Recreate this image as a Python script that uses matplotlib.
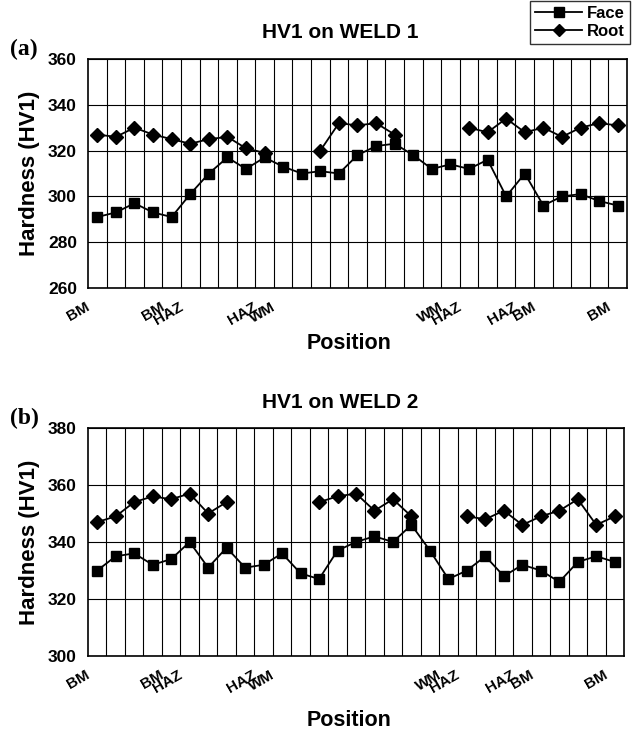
import numpy as np
import matplotlib
matplotlib.use("Agg")
import matplotlib.pyplot as plt
import matplotlib.transforms as mtransforms
from matplotlib.lines import Line2D

plt.rcParams['font.family'] = ['Liberation Sans', 'DejaVu Sans']

nan = np.nan
positions = np.arange(1, 30)

# tick labels only at a few positions
label_pos = [1, 5, 6, 10, 11, 20, 21, 24, 25, 29]
label_txt = ["BM", "BM", "HAZ", "HAZ", "WM", "WM", "HAZ", "HAZ", "BM", "BM"]

# WELD 1
face_w1 = [291, 293, 297, 293, 291, 301, 310, 317, 312, 317, 313, 310, 311, 310, 318,
           322, 323, 318, 312, 314, 312, 316, 300, 310, 296, 300, 301, 298, 296]
root_w1 = [327, 326, 330, 327, 325, 323, 325, 326, 321, 319, nan, nan, 320, 332, 331,
           332, 327, nan, nan, nan, 330, 328, 334, 328, 330, 326, 330, 332, 331]

# WELD 2
face_w2 = [330, 335, 336, 332, 334, 340, 331, 338, 331, 332, 336, 329, 327, 337, 340,
           342, 340, 346, 337, 327, 330, 335, 328, 332, 330, 326, 333, 335, 333]
root_w2 = [347, 349, 354, 356, 355, 357, 350, 354, nan, nan, nan, nan, 354, 356, 357,
           351, 355, 349, nan, nan, 349, 348, 351, 346, 349, 351, 355, 346, 349]

W, H = 637, 731
fig = plt.figure(figsize=(W / 100, H / 100), dpi=100)


def panel(rect, face, root, ylim, title, tag, title_y, xlab_y):
    ax = fig.add_axes(rect)
    ax.plot(positions, face, color="black", marker="s", markersize=7.5, lw=1.3)
    ax.plot(positions, root, color="black", marker="D", markersize=7, lw=1.3)
    for b in np.arange(1.5, 29.5, 1):
        ax.axvline(b, color="black", lw=0.8, zorder=0)
    ax.grid(axis="y", color="black", lw=0.8, zorder=0)
    ax.set_xticks([])
    ax.set_yticks(np.arange(ylim[0], ylim[1] + 1, 20))
    ax.set_xlim(0.5, 29.5)
    ax.set_ylim(*ylim)
    # rotated category labels, shifted a bit left/down of their category
    off = mtransforms.ScaledTranslation(-12 / 100, -12 / 100, fig.dpi_scale_trans)
    for p, s in zip(label_pos, label_txt):
        ax.text(p, 0, s, transform=ax.get_xaxis_transform() + off, rotation=30,
                ha="right", va="top", rotation_mode="anchor", fontsize=11,
                fontweight="bold")
    ax.tick_params(axis="y", length=0, pad=8, labelsize=12.5)
    for t in ax.get_yticklabels():
        t.set_fontweight("bold")
    for s in ax.spines.values():
        s.set_linewidth(1.2)
    fig.text(340 / W, 1 - title_y / H, title, fontsize=15, fontweight="bold",
             ha="center", va="center")
    fig.text(349 / W, 1 - xlab_y / H, "Position", fontsize=15.5, fontweight="bold",
             ha="center", va="center")
    ax.set_ylabel("Hardness (HV1)", fontsize=16, fontweight="bold")
    ax.yaxis.set_label_coords(-(88 - 40) / (rect[2] * W), 0.5)
    top = (1 - rect[1] - rect[3]) * H
    ax.text(10 / W, 1 - (top - 10) / H, tag, transform=fig.transFigure,
            fontsize=17, fontweight="bold", family="Liberation Serif",
            ha="left", va="center")
    return ax


ax1 = panel([88 / W, 1 - 288 / H, 539 / W, 229 / H], face_w1, root_w1, (260, 360),
            "HV1 on WELD 1", "(a)", 32, 343)
ax2 = panel([88 / W, 1 - 656 / H, 536 / W, 228 / H], face_w2, root_w2, (300, 380),
            "HV1 on WELD 2", "(b)", 402, 720)

handles = [Line2D([], [], color="black", marker="s", markersize=6.5, lw=1.3),
           Line2D([], [], color="black", marker="D", markersize=6, lw=1.3)]
leg = fig.legend(handles, ["Face", "Root"], loc="upper right",
                 bbox_to_anchor=(630 / W, 1 - 1 / H), frameon=True, fancybox=False,
                 edgecolor="black", prop={"weight": "bold", "size": 12},
                 handlelength=2.8, handletextpad=0.3, borderpad=0.3, labelspacing=0.15,
                 borderaxespad=0)
leg.get_frame().set_linewidth(1.0)

fig.savefig("out.png", dpi=100)
